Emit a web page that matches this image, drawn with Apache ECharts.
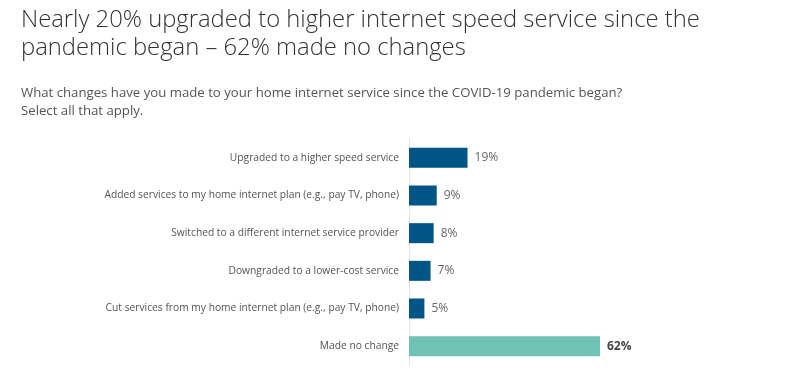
<!DOCTYPE html>
<html><head><meta charset="utf-8">
<script src="https://cdn.jsdelivr.net/npm/echarts@6/dist/echarts.min.js"></script>
<style>html,body{margin:0;padding:0;background:#fff}#c{width:800px;height:374px}</style>
</head><body><div id="c"></div>
<script>
const categories = [
  "Upgraded to a higher speed service",
  "Added services to my home internet plan (e.g., pay TV, phone)",
  "Switched to a different internet service provider",
  "Downgraded to a lower-cost service",
  "Cut services from my home internet plan (e.g., pay TV, phone)",
  "Made no change"
];
const values = [19, 9, 8, 7, 5, 62];
const highlight = [false, false, false, false, false, true];

const chart = echarts.init(document.getElementById('c'), null, {renderer: 'canvas'});
chart.setOption({
  backgroundColor: '#fff',
  animation: false,
  title: [
    {text: 'Nearly 20% upgraded to higher internet speed service since the\npandemic began – 62% made no changes',
     left: 16, top: 1,
     textStyle: {fontFamily: 'Open Sans', fontWeight: 300, fontSize: 23.8, color: '#333', lineHeight: 28}},
    {text: 'What changes have you made to your home internet service since the COVID-19 pandemic began?\nSelect all that apply.',
     left: 16, top: 79,
     textStyle: {fontFamily: 'Open Sans', fontWeight: 'normal', fontSize: 13.2, color: '#555', lineHeight: 18}}
  ],
  grid: {left: 409, top: 139, width: 191, height: 226, containLabel: false},
  xAxis: {type: 'value', min: 0, max: 62, show: false},
  yAxis: {
    type: 'category', data: categories, inverse: true,
    axisLine: {show: true, lineStyle: {color: '#e3e3e3', width: 1}},
    axisTick: {show: false},
    axisLabel: {fontFamily: 'Open Sans', fontSize: 10.25, color: '#555', margin: 10}
  },
  series: [{
    type: 'bar', barWidth: 20,
    data: values.map((v, i) => ({
      value: v,
      itemStyle: {color: highlight[i] ? '#6fc2b4' : '#005587'},
      label: {fontWeight: highlight[i] ? 'bold' : 'normal', color: highlight[i] ? '#444' : '#666'}
    })),
    label: {show: true, position: 'right', distance: 7, formatter: '{c}%',
      fontFamily: 'Open Sans', fontSize: 12}
  }]
});
</script></body></html>
